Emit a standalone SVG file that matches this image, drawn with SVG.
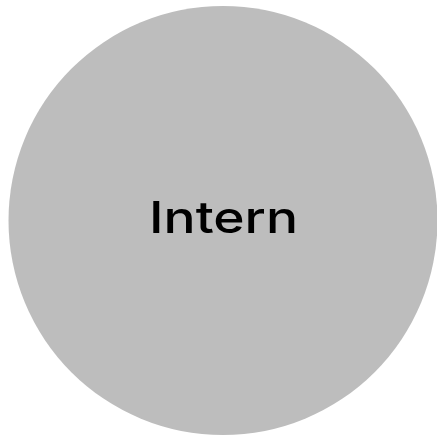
<svg xmlns="http://www.w3.org/2000/svg" width="437" height="438" viewBox="0 0 437 438">
<style>
.node-shape{fill:#bdbdbd;}
.label{font-family:Inter,"Open Sans","Liberation Sans",sans-serif;font-size:44px;font-weight:500;fill:#000;text-anchor:middle;}
</style>
<rect width="437" height="438" fill="#ffffff"/>
<g id="connectors"></g>
<g id="intern">
<circle class="node-shape" cx="223" cy="220.5" r="214.5"/>
<text class="label" x="223.5" y="233.3" textLength="149" lengthAdjust="spacingAndGlyphs">Intern</text>
</g>
</svg>
